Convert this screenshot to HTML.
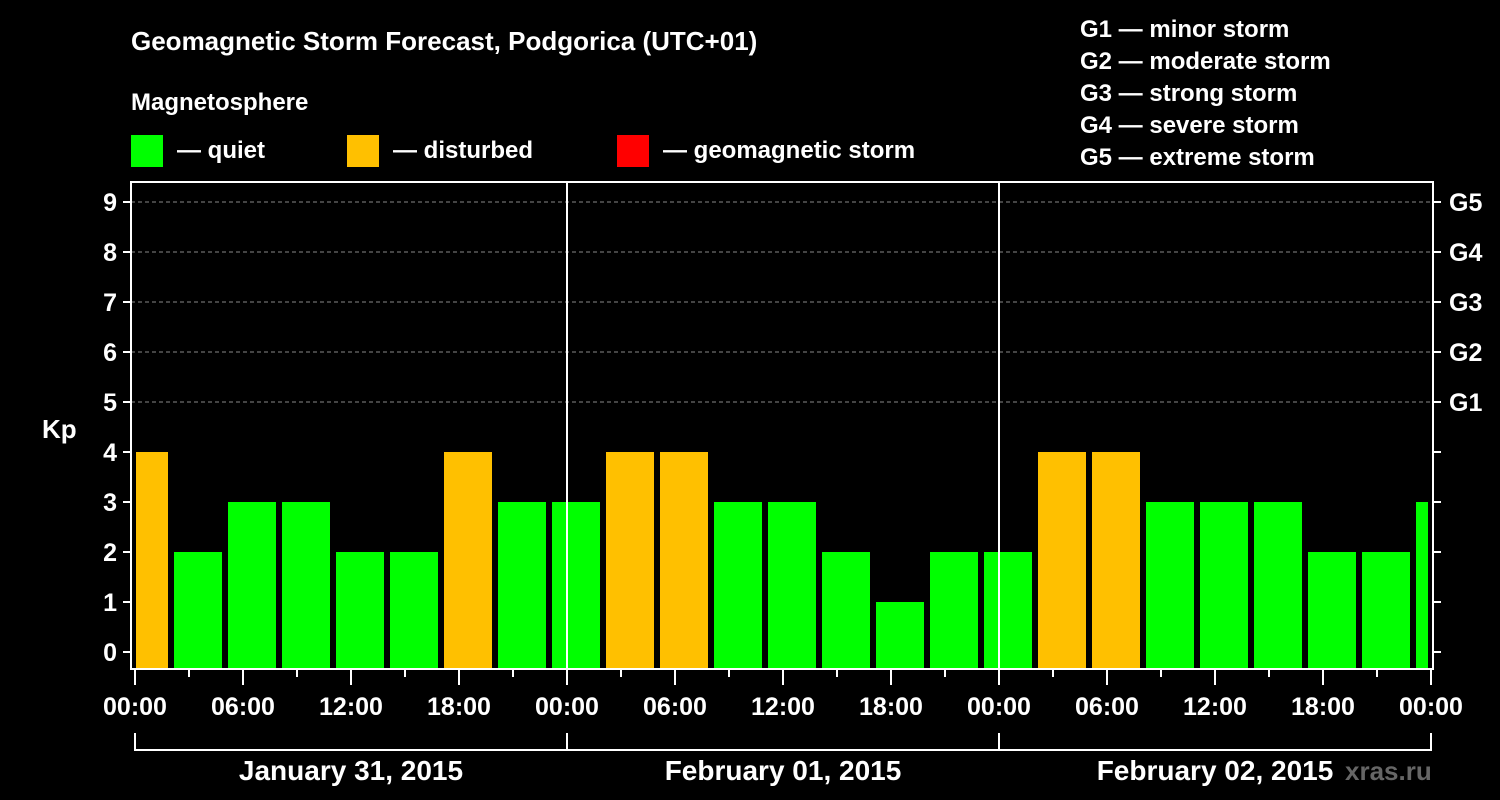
<!DOCTYPE html>
<html><head><meta charset="utf-8"><style>
body{margin:0;background:#000;}
svg{display:block;font-family:"Liberation Sans",Arial,sans-serif;font-weight:bold;}
</style></head><body>
<svg id="chart" width="1500" height="800" viewBox="0 0 1500 800" xmlns="http://www.w3.org/2000/svg">
<rect width="1500" height="800" fill="#000"/>
<text x="131" y="50" fill="#fff" font-size="26">Geomagnetic Storm Forecast, Podgorica (UTC+01)</text>
<text x="131" y="110" fill="#fff" font-size="24">Magnetosphere</text>
<g><rect x="131" y="135" width="32" height="32" fill="#00ff00"/><text x="177" y="158" fill="#fff" font-size="24">— quiet</text></g>
<g><rect x="347" y="135" width="32" height="32" fill="#ffc000"/><text x="393" y="158" fill="#fff" font-size="24">— disturbed</text></g>
<g><rect x="617" y="135" width="32" height="32" fill="#ff0000"/><text x="663" y="158" fill="#fff" font-size="24">— geomagnetic storm</text></g>
<g fill="#fff" font-size="24">
<text x="1080" y="37">G1 — minor storm</text>
<text x="1080" y="69">G2 — moderate storm</text>
<text x="1080" y="101">G3 — strong storm</text>
<text x="1080" y="133">G4 — severe storm</text>
<text x="1080" y="165">G5 — extreme storm</text>
</g>
<text x="42" y="438" fill="#fff" font-size="26">Kp</text>
<text x="1345" y="780" fill="#666" font-size="26">xras.ru</text>
<g id="grid"></g><g id="bars"></g><g id="axes"></g>
</svg>
<script>
const kpValues=[4,2,3,3,2,2,4,3,3,4,4,3,3,2,1,2,2,4,4,3,3,3,2,2,3];
const binStartHour=-1;
const yTicks=[0,1,2,3,4,5,6,7,8,9];
const gLabels=["G1","G2","G3","G4","G5"];
const hourLabels=["00:00","06:00","12:00","18:00"];
const dayLabels=["January 31, 2015","February 01, 2015","February 02, 2015"];
const NS="http://www.w3.org/2000/svg";
const X0=135,PXH=18,Y0=652,PXK=50,L=131,R=1433,T=182,B=669;
const x=h=>X0+h*PXH, y=k=>Y0-k*PXK;
function mk(tag,attrs,parent,text){const e=document.createElementNS(NS,tag);for(const k in attrs)e.setAttribute(k,attrs[k]);if(text!==undefined)e.textContent=text;document.getElementById(parent).appendChild(e);return e;}
yTicks.forEach(k=>{
 if(k>=5){const g=mk('line',{x1:L,x2:R,y1:y(k),y2:y(k),stroke:'#888','stroke-dasharray':'4,3','stroke-width':1},'grid');
 
 }
 const t=mk('line',{x1:L-8,x2:L,y1:y(k),y2:y(k),stroke:'#fff','stroke-width':2},'axes');
 
 
 const t2=mk('line',{x1:R,x2:R+8,y1:y(k),y2:y(k),stroke:'#fff','stroke-width':2},'axes');
 
 
 const lb=mk('text',{x:L-14,y:y(k)+9,fill:'#fff','font-size':25,'text-anchor':'end'},'axes',String(k));
 
 
});
gLabels.forEach((g,i)=>{
 const lb=mk('text',{x:R+16,y:y(5+i)+9,fill:'#fff','font-size':25},'axes',g);
 
 
});
kpValues.forEach((v,i)=>{
 const s=binStartHour+3*i;
 let x1=Math.max(x(s)+3,X0+1), x2=Math.min(x(s+3)-3,R-5);
 const r=mk('rect',{x:x1,y:y(v),width:x2-x1,height:B-y(v),fill:v>=5?'#ff0000':(v>=4?'#ffc000':'#00ff00')},'bars');
 
 
});
dayLabels.forEach((d,di)=>{
 if(di>0){const v=mk('line',{x1:x(24*di),x2:x(24*di),y1:T,y2:B,stroke:'#fff','stroke-width':2},'axes');
 
 }
 hourLabels.forEach((h,hi)=>{
  const hx=x(24*di+6*hi);
  const lb=mk('text',{x:hx,y:715,fill:'#fff','font-size':25,'text-anchor':'middle'},'axes',h);
  
  
 });
 for(let k=0;k<8;k++){const tx=x(24*di+3*k);
  const t=mk('line',{x1:tx,x2:tx,y1:B,y2:k%2?677:685,stroke:'#fff','stroke-width':2},'axes');
  
  }
 const a=x(24*di),b=x(24*(di+1));
 const br=mk('path',{d:`M${a} 733V750H${b}V733`,stroke:'#fff','stroke-width':2,fill:'none'},'axes');
 
 
 const dl=mk('text',{x:(a+b)/2,y:780,fill:'#fff','font-size':28,'text-anchor':'middle'},'axes',d);
 
 
});
const lt=mk('text',{x:x(72),y:715,fill:'#fff','font-size':25,'text-anchor':'middle'},'axes','00:00');


const lt2=mk('line',{x1:x(72),x2:x(72),y1:B,y2:685,stroke:'#fff','stroke-width':2},'axes');


const fr=mk('rect',{x:L,y:T,width:R-L,height:B-T,fill:'none',stroke:'#fff','stroke-width':2},'axes');


</script>
</body></html>
